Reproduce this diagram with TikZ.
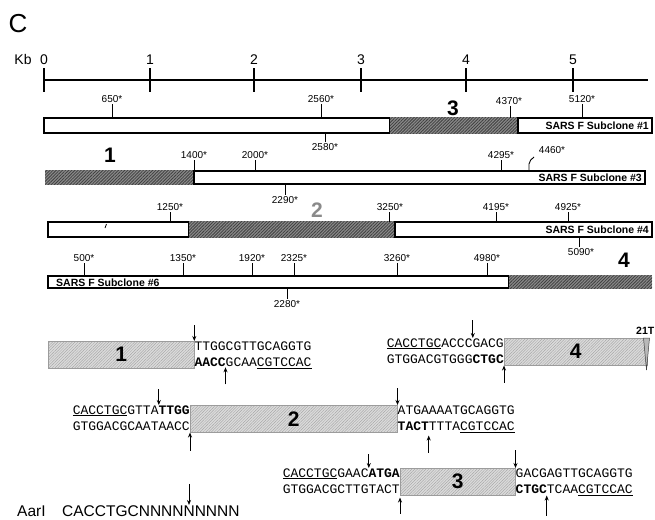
\documentclass[tikz,border=0pt]{standalone}
\usepackage{fontspec}
\setmainfont{Liberation Sans}
\setmonofont{Liberation Mono}
\usepackage{xcolor}
\definecolor{hatchGray}{HTML}{404040}
\definecolor{hatchBack}{HTML}{8A8A8A}
\definecolor{fragGray}{HTML}{DADADA}
\definecolor{fragLine}{HTML}{9C9C9C}
\definecolor{numGray}{HTML}{8A8A8A}
\usepackage{tikz}
\usetikzlibrary{
    arrows.meta,
    patterns.meta,
    positioning,
    calc
}
\tikzset{
    % Kb scale bar
    axis/.style={line width=1.4pt},
    kbtick/.style={line width=1.3pt},
    kblabel/.style={font=\fontsize{14}{14}\selectfont, inner sep=1pt},
    % Subclone bars - white part with heavy outline
    clone/.style={draw, line width=1.7pt, fill=white},
    % Subclone bars - dark hatched part
    hatched/.style={
        preaction={fill=hatchBack},
        pattern={Lines[angle=45,distance=2.2pt,line width=0.8pt]},
        pattern color=hatchGray,
    },
    % Restriction site ticks and their positions
    site/.style={line width=0.9pt},
    sitelbl/.style={font=\fontsize{10}{10}\selectfont, inner sep=1pt},
    clonename/.style={font=\fontsize{10.5}{10.5}\selectfont\bfseries, inner sep=1pt},
    bignum/.style={font=\fontsize{21}{21}\selectfont\bfseries, inner sep=0pt},
    % PCR fragments - light hatched boxes
    frag/.style={
        draw=fragLine,
        line width=0.5pt,
        preaction={fill=fragGray},
        pattern={Lines[angle=45,distance=2pt,line width=0.3pt]},
        pattern color=fragLine,
        inner sep=0pt,
        minimum height=27pt,
        anchor=north west,
        font=\fontsize{21}{21}\selectfont\bfseries,
    },
    % Sticky end sequences
    seq/.style={font=\fontsize{13}{13}\selectfont\ttfamily, inner sep=0pt},
    % Cut site arrows
    cut/.style={-{Stealth[length=5pt, width=4pt]}, line width=0.9pt},
}

\begin{document}
\begin{tikzpicture}[x=1pt, y=-1pt]
    \useasboundingbox (0,0) rectangle (655,519);

    % panel letter and scale
    \node[font=\fontsize{26}{26}\selectfont, inner sep=0pt] (panel) at (18,24) {C};
    \node[kblabel] (kb) at (23,59) {Kb};
    \draw[axis] (43,80) -- (648,80);
    \foreach \k/\xk in {0/44,1/150,2/254,3/361,4/466,5/573}{
        \draw[kbtick] (\xk,68) -- (\xk,92);
        \node[kblabel, anchor=south] (kb\k) at (\xk,66) {\k};
    }

    % SARS F Subclone #1
    \draw[clone] (44,118) rectangle (390,133);
    \fill[hatched] (390,117.2) rectangle (518,133.8);
    \draw[clone] (518,118) rectangle (652,133);
    \draw[site] (112,104) -- (112,118);
    \node[sitelbl, anchor=south] (s650) at (112,104) {650*};
    \draw[site] (321,104) -- (321,118);
    \node[sitelbl, anchor=south] (s2560) at (321,104) {2560*};
    \draw[site] (510,106) -- (510,118);
    \node[sitelbl, anchor=south] (s4370) at (509,106) {4370*};
    \draw[site] (582,104) -- (582,118);
    \node[sitelbl, anchor=south] (s5120) at (582,104) {5120*};
    \draw[site] (325,133) -- (325,142);
    \node[sitelbl, anchor=north] (s2580) at (325,142) {2580*};
    \node[bignum] (n3) at (453,108) {3};
    \node[clonename, anchor=east] (c1) at (650,125.5) {SARS F Subclone \#1};

    % SARS F Subclone #3
    \fill[hatched] (45,170.2) rectangle (194,184.8);
    \draw[clone] (194,171) rectangle (645,184);
    \draw[site] (194,160) -- (194,171);
    \node[sitelbl, anchor=south] (s1400) at (194,160) {1400*};
    \draw[site] (255,160) -- (255,171);
    \node[sitelbl, anchor=south] (s2000) at (255,160) {2000*};
    \draw[site] (501,160) -- (501,171);
    \node[sitelbl, anchor=south] (s4295) at (501,160) {4295*};
    \draw[site] (529,171) -- (529,164) to[out=90, in=225] (534,157);
    \node[sitelbl, anchor=south] (s4460) at (552,155) {4460*};
    \draw[site] (285,184) -- (285,195);
    \node[sitelbl, anchor=north] (s2290) at (285,195) {2290*};
    \node[bignum] (n1) at (110,155) {1};
    \node[clonename, anchor=east] (c3) at (643,178) {SARS F Subclone \#3};

    % SARS F Subclone #4
    \draw[clone] (48,222) rectangle (189,237);
    \fill[hatched] (189,221.2) rectangle (395,237.8);
    \draw[clone] (395,222) rectangle (652,237);
    \draw[line width=0.8pt] (105,228) -- (106.5,224);
    \draw[site] (170,212) -- (170,222);
    \node[sitelbl, anchor=south] (s1250) at (170,212) {1250*};
    \draw[site] (389,212) -- (389,222);
    \node[sitelbl, anchor=south] (s3250) at (390,212) {3250*};
    \draw[site] (496,212) -- (496,222);
    \node[sitelbl, anchor=south] (s4195) at (496,212) {4195*};
    \draw[site] (568,212) -- (568,222);
    \node[sitelbl, anchor=south] (s4925) at (568,212) {4925*};
    \draw[site] (579,237) -- (579,247);
    \node[sitelbl, anchor=north] (s5090) at (581,247) {5090*};
    \node[bignum, text=numGray] (n2) at (317,210) {2};
    \node[clonename, anchor=east] (c4) at (650,229.5) {SARS F Subclone \#4};

    % SARS F Subclone #6
    \draw[clone] (48,276) rectangle (509,288);
    \fill[hatched] (509,275.2) rectangle (652,288.8);
    \draw[site] (84,263) -- (84,276);
    \node[sitelbl, anchor=south] (s500) at (84,263) {500*};
    \draw[site] (183,263) -- (183,276);
    \node[sitelbl, anchor=south] (s1350) at (183,263) {1350*};
    \draw[site] (252,263) -- (252,276);
    \node[sitelbl, anchor=south] (s1920) at (252,263) {1920*};
    \draw[site] (294,263) -- (294,276);
    \node[sitelbl, anchor=south] (s2325) at (294,263) {2325*};
    \draw[site] (397,263) -- (397,276);
    \node[sitelbl, anchor=south] (s3260) at (397,263) {3260*};
    \draw[site] (487,263) -- (487,276);
    \node[sitelbl, anchor=south] (s4980) at (487,263) {4980*};
    \draw[site] (287,288) -- (287,299);
    \node[sitelbl, anchor=north] (s2280) at (287,299) {2280*};
    \node[bignum] (n4) at (624,260) {4};
    \node[clonename, anchor=west] (c6) at (55,283) {SARS F Subclone \#6};

    % fragment 1
    \node[frag, minimum width=146pt] (f1) at (48,341) {1};
    \node[seq, anchor=base west] (f1top) at ($(f1.north east)+(0,9)$) {TTGGCGTTGCAGGTG};
    \node[seq, anchor=base west] (f1bot) at ($(f1.south east)+(0,-2)$) {\textbf{AACC}GCAA\underline{CGTCCAC}};
    \draw[cut] ($(f1.north east)+(0,-16)$) -- (f1.north east);
    \draw[cut] ($(f1.south east)+(31.2,16)$) -- ($(f1.south east)+(31.2,-1)$);

    % fragment 4
    \node[frag, minimum width=143pt] (f4) at (504,338) {4};
    \node[seq, anchor=base east] (f4top) at ($(f4.north west)+(0,9)$) {\underline{CACCTGC}ACCCGACG};
    \node[seq, anchor=base east] (f4bot) at ($(f4.south west)+(0,-2)$) {GTGGACGTGGG\textbf{CTGC}};
    \draw[cut] ($(f4.north west)+(-31.2,-18)$) -- ($(f4.north west)+(-31.2,0)$);
    \draw[cut] ($(f4.south west)+(0,17)$) -- (f4.south west);
    \draw[fill=gray!55, draw=black!75, line width=0.5pt] (643.5,338) -- (649.5,338) -- (646.5,370) -- cycle;
    \node[font=\fontsize{10.5}{10.5}\selectfont\bfseries, anchor=south east, inner sep=0pt] (t21) at (654.5,335) {21T};

    % fragment 2
    \node[frag, minimum width=207pt] (f2) at (190,405) {2};
    \node[seq, anchor=base east] (f2ltop) at ($(f2.north west)+(0,9)$) {\underline{CACCTGC}GTTA\textbf{TTGG}};
    \node[seq, anchor=base east] (f2lbot) at ($(f2.south west)+(0,-2)$) {GTGGACGCAATAACC};
    \node[seq, anchor=base west] (f2rtop) at ($(f2.north east)+(0,9)$) {ATGAAAATGCAGGTG};
    \node[seq, anchor=base west] (f2rbot) at ($(f2.south east)+(0,-2)$) {\textbf{TACT}TTTA\underline{CGTCCAC}};
    \draw[cut] ($(f2.north west)+(-31.2,-16)$) -- ($(f2.north west)+(-31.2,0)$);
    \draw[cut] ($(f2.south west)+(0,18)$) -- (f2.south west);
    \draw[cut] ($(f2.north east)+(0,-17)$) -- (f2.north east);
    \draw[cut] ($(f2.south east)+(31.2,20)$) -- ($(f2.south east)+(31.2,3)$);

    % fragment 3
    \node[frag, minimum width=115pt] (f3) at (400,468) {3};
    \node[seq, anchor=base east] (f3ltop) at ($(f3.north west)+(0,9)$) {\underline{CACCTGC}GAAC\textbf{ATGA}};
    \node[seq, anchor=base east] (f3lbot) at ($(f3.south west)+(0,-2)$) {GTGGACGCTTGTACT};
    \node[seq, anchor=base west] (f3rtop) at ($(f3.north east)+(0,9)$) {GACGAGTTGCAGGTG};
    \node[seq, anchor=base west] (f3rbot) at ($(f3.south east)+(0,-2)$) {\textbf{CTGC}TCAA\underline{CGTCCAC}};
    \draw[cut] ($(f3.north west)+(-31.2,-14)$) -- ($(f3.north west)+(-31.2,0)$);
    \draw[cut] ($(f3.south west)+(0,18)$) -- ($(f3.south west)+(0,2)$);
    \draw[cut] ($(f3.north east)+(0,-18)$) -- (f3.north east);
    \draw[cut] ($(f3.south east)+(31.2,20)$) -- ($(f3.south east)+(31.2,0)$);

    % AarI recognition site
    \node[font=\fontsize{15.5}{15.5}\selectfont, anchor=base west, inner sep=0pt] (aar) at (17,516) {AarI};
    \node[font=\fontsize{15.5}{15.5}\selectfont, anchor=base west, inner sep=0pt] (aarseq) at (62,516) {CACCTGCNNNNNNNNN};
    \coordinate (aarcut) at ($(aarseq.north west)+(127,0)$);
    \draw[cut] ($(aarcut)+(0,-21)$) -- (aarcut);
\end{tikzpicture}
\end{document}
